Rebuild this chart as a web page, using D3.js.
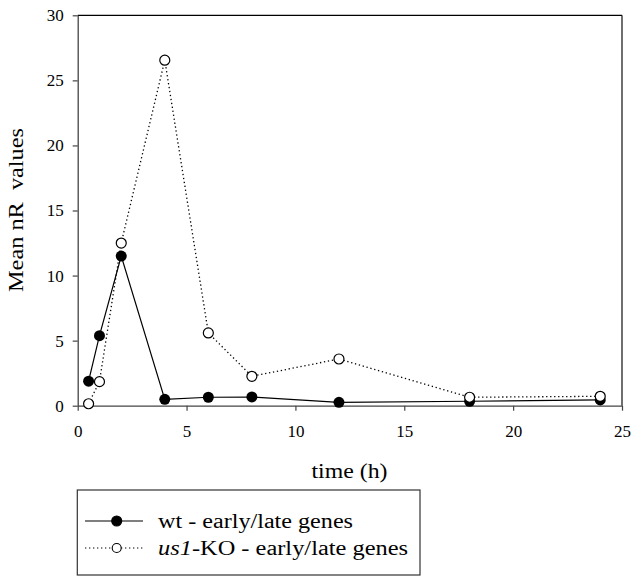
<!DOCTYPE html>
<html><head><meta charset="utf-8">
<script src="https://cdn.jsdelivr.net/npm/d3@7"></script>
<style>body{margin:0;background:#fff}svg{display:block}text{font-family:"Liberation Serif","Times New Roman",serif}</style>
</head><body><svg id="c" width="632" height="576"></svg>
<script>
const times = [0.5, 1, 2, 4, 6, 8, 12, 18, 24];
const wtValues = [1.88, 5.38, 11.5, 0.49, 0.65, 0.67, 0.26, 0.34, 0.44];
const koValues = [0.15, 1.85, 12.5, 26.55, 5.59, 2.26, 3.59, 0.65, 0.72];
const xTicks = [0, 5, 10, 15, 20, 25];
const yTicks = [0, 5, 10, 15, 20, 25, 30];

const svg = d3.select("#c");
const SERIF = '"Liberation Serif","Times New Roman",serif';
const L = 77.7, R = 622, T = 15.3, B = 405.7;
const x = d3.scaleLinear().domain([0, 25]).range([L, R]);
const y = d3.scaleLinear().domain([0, 30]).range([B, T]);

// frame
svg.append("line").attr("x1", L).attr("x2", R).attr("y1", T).attr("y2", T).attr("stroke", "#000").attr("stroke-width", 1.3);
svg.append("line").attr("x1", R).attr("x2", R).attr("y1", T).attr("y2", B).attr("stroke", "#222").attr("stroke-width", 1.3);

const xa = svg.append("g").attr("transform", `translate(0,${B})`)
  .call(d3.axisBottom(x).tickValues(xTicks).tickSize(5).tickPadding(14).tickSizeOuter(0));
const ya = svg.append("g").attr("transform", `translate(${L},0)`)
  .call(d3.axisLeft(y).tickValues(yTicks).tickSize(5).tickPadding(9).tickSizeOuter(0));
[xa, ya].forEach(g => {
  g.attr("font-family", SERIF).attr("font-size", 17);
  g.select(".domain").attr("stroke", "#444").attr("stroke-width", 1.3);
  g.selectAll(".tick line").attr("stroke", "#444").attr("stroke-width", 1.2);
  g.selectAll(".tick text").attr("fill", "#000");
});

const line = d3.line().x((d, i) => x(times[i])).y(d => y(d));
svg.append("path").datum(koValues).attr("d", line).attr("fill", "none").attr("stroke", "#000").attr("stroke-width", 1.3).attr("stroke-dasharray", "1.3,2.7");
svg.append("path").datum(wtValues).attr("d", line).attr("fill", "none").attr("stroke", "#000").attr("stroke-width", 1.2);

svg.selectAll(".wt").data(wtValues).enter().append("circle")
  .attr("cx", (d, i) => x(times[i])).attr("cy", d => y(d)).attr("r", 5.5).attr("fill", "#000");
svg.selectAll(".ko").data(koValues).enter().append("circle")
  .attr("cx", (d, i) => x(times[i])).attr("cy", d => y(d)).attr("r", 5).attr("fill", "#fff").attr("stroke", "#000").attr("stroke-width", 1.2);

svg.append("text").attr("x", 349.5).attr("y", 478).attr("text-anchor", "middle").attr("font-size", 21)
  .attr("textLength", 76).attr("lengthAdjust", "spacingAndGlyphs").text("time (h)");
svg.append("text").attr("transform", "translate(23,210) rotate(-90)").attr("text-anchor", "middle").attr("font-size", 21)
  .attr("textLength", 164).attr("lengthAdjust", "spacingAndGlyphs").style("white-space", "pre").text("Mean nR  values");

// legend
svg.append("rect").attr("x", 77.3).attr("y", 490).attr("width", 342.7).attr("height", 85).attr("fill", "none").attr("stroke", "#333").attr("stroke-width", 1.2);
const lg = [{y: 521, dash: null, fill: "#000", r: 5, w: 195, label: [["wt - early/late genes", "normal"]]},
            {y: 548, dash: "1.3,2.7", fill: "#fff", r: 4.5, w: 250, label: [["us1", "italic"], ["-KO - early/late genes", "normal"]]}];
lg.forEach(e => {
  svg.append("line").attr("x1", 85).attr("x2", 143).attr("y1", e.y).attr("y2", e.y).attr("stroke", "#000").attr("stroke-width", 1.2).attr("stroke-dasharray", e.dash);
  svg.append("circle").attr("cx", 116.7).attr("cy", e.y).attr("r", e.r).attr("fill", e.fill).attr("stroke", "#000").attr("stroke-width", 1.1);
  const t = svg.append("text").attr("x", 158).attr("y", e.y + 7).attr("font-size", 20)
    .attr("textLength", e.w).attr("lengthAdjust", "spacingAndGlyphs");
  e.label.forEach(p => t.append("tspan").style("font-style", p[1]).text(p[0]));
});
</script></body></html>
